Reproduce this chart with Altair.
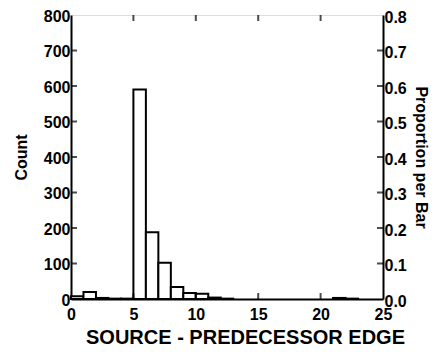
import altair as alt
import pandas as pd

bin_start = [0, 1, 2, 3, 4, 5, 6, 7, 8, 9, 10, 11, 12, 21, 22]
bin_end = [1, 2, 3, 4, 5, 6, 7, 8, 9, 10, 11, 12, 13, 22, 23]
counts = [8, 20, 3, 1, 1, 590, 188, 102, 34, 17, 15, 4, 1, 3, 1]

count_labels = [0, 100, 200, 300, 400, 500, 600, 700, 800]
prop_labels = [0.0, 0.1, 0.2, 0.3, 0.4, 0.5, 0.6, 0.7, 0.8]
x_labels = [0, 5, 10, 15, 20, 25]
count_ticks = [100, 200, 300, 400, 500, 600, 700]
prop_ticks = [0.1, 0.2, 0.3, 0.4, 0.5, 0.6, 0.7]
x_ticks = [5, 10, 15, 20]

W, H = 312, 284
FONT = "Liberation Sans"

LBL = dict(labelFont=FONT, labelFontWeight="bold", labelFontSize=16, labelColor="black",
           titleFont=FONT, titleFontWeight="bold", titleColor="black",
           domainColor="black", domainWidth=2, ticks=False, grid=False,
           labelOverlap=False, labelFlush=False)

bars_df = pd.DataFrame({"start": bin_start, "end": bin_end, "count": counts})
cnt_df = pd.DataFrame({"count": count_ticks})
prop_df = pd.DataFrame({"prop": prop_ticks})
xt_df = pd.DataFrame({"start": x_ticks})

xscale = alt.Scale(domain=[0, 25], nice=False, zero=False)
yscale = alt.Scale(domain=[0, 800], nice=False)

xaxis = alt.Axis(values=x_labels, labelPadding=7, titleFontSize=20, titlePadding=5,
                 titleX=174, **LBL)
yaxis = alt.Axis(values=count_labels, labelPadding=1, labelOffset=1,
                 titleFontSize=16, titlePadding=14, **LBL)
XT = "SOURCE - PREDECESSOR EDGE"


def xenc(field):
    return alt.X(field, scale=xscale, axis=xaxis, title=XT)


def yenc(field):
    return alt.Y(field, scale=yscale, axis=yaxis, title="Count")


bars = alt.Chart(bars_df).mark_bar(
    fill="white", stroke="black", strokeWidth=2
).encode(
    x=xenc("start:Q"),
    x2="end:Q",
    y=yenc("count:Q"),
    y2=alt.datum(0),
)

left_ticks = alt.Chart(cnt_df).mark_tick(color="black", thickness=2, size=6).encode(
    y=yenc("count:Q"),
    x=alt.value(3),
)

top_ticks = alt.Chart(xt_df).mark_tick(color="black", thickness=2, size=6).encode(
    x=xenc("start:Q"),
    y=alt.value(3),
)
bottom_ticks = alt.Chart(xt_df).mark_tick(color="black", thickness=2, size=6).encode(
    x=xenc("start:Q"),
    y=alt.value(H - 3),
)

left = alt.layer(bars, left_ticks, top_ticks, bottom_ticks)

right_ticks = alt.Chart(prop_df).mark_tick(color="black", thickness=2, size=6).encode(
    y=alt.Y("prop:Q", scale=alt.Scale(domain=[0, 0.8], nice=False),
            title="Proportion per Bar",
            axis=alt.Axis(orient="right", values=prop_labels,
                          format=".1f", titleAngle=90, labelPadding=1, labelOffset=2,
                          titleFontSize=16, titlePadding=6, **LBL)),
    x=alt.value(W - 3),
)

chart = alt.layer(left, right_ticks).resolve_scale(y="independent").properties(
    width=W, height=H,
    autosize=alt.AutoSizeParams(type="none"),
    padding={"left": 63, "top": 7, "right": 50, "bottom": 47},
).configure_view(stroke="black", strokeWidth=2).configure(background="white")

chart.save("out.html", embed_options={"renderer": "svg", "actions": False})
